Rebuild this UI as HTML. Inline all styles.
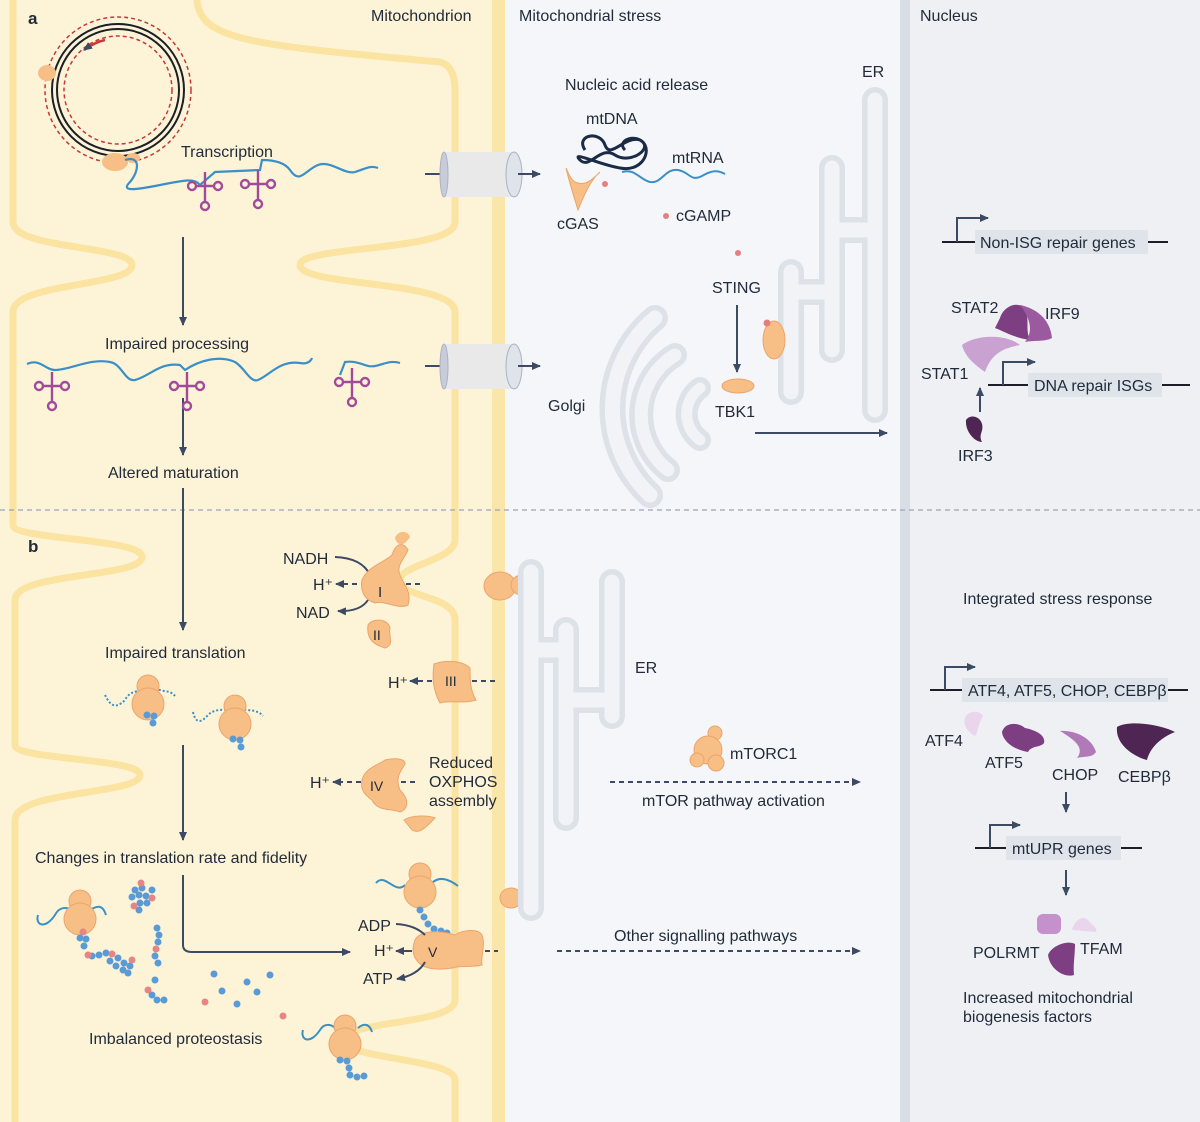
<!DOCTYPE html>
<html><head><meta charset="utf-8"><style>
html,body{margin:0;padding:0;background:#fff}
svg{display:block}
text{font-family:"Liberation Sans",sans-serif;font-size:16px;fill:#222b3a}
</style></head><body>
<svg width="1200" height="1122" viewBox="0 0 1200 1122" xmlns="http://www.w3.org/2000/svg">
<defs>
<marker id="ah" markerWidth="10" markerHeight="10" refX="8" refY="5" orient="auto" markerUnits="userSpaceOnUse"><path d="M0,1 L9,5 L0,9 Z" fill="#3d4a63"/></marker>
<g id="trna" fill="none" stroke="#a24a9a" stroke-width="2.4">
<path d="M0,0 V30 M0,14 H-9 M0,14 H9"/>
<circle cx="-13" cy="14" r="4"/><circle cx="13" cy="14" r="4"/><circle cx="0" cy="34" r="4"/>
</g>
<g id="ribo"><circle cx="0" cy="-14" r="11" fill="#f7be85" stroke="#eba56c"/><circle cx="0" cy="4" r="16" fill="#f7be85" stroke="#eba56c"/></g>
</defs>

<!-- backgrounds -->
<rect x="0" y="0" width="500" height="1122" fill="#fdf4d8"/>
<rect x="492" y="0" width="13" height="1122" fill="#fbe6aa"/>
<rect x="505" y="0" width="395" height="1122" fill="#f4f6f9"/>
<rect x="900" y="0" width="10" height="1122" fill="#d8dde6"/>
<rect x="910" y="0" width="290" height="1122" fill="#eef0f4"/>

<!-- cristae -->
<g fill="none" stroke="#fbe3a2" stroke-width="7">
<path d="M197,0 C200,40 250,45 440,62 Q455,66 455,90 L455,222 C455,252 300,245 300,265 C300,287 455,280 455,312 L455,540 C455,560 400,565 400,580 C400,598 455,595 455,620 L455,1000 C455,1025 345,1020 345,1040 C345,1060 455,1058 455,1080 L455,1122"/>
<path d="M13,0 L13,222 C13,250 132,245 132,265 C132,287 13,282 13,312 L13,525 C13,540 142,538 142,557 C142,578 15,572 15,600 L15,745 C15,760 140,758 140,775 C140,795 15,790 15,820 L15,1122"/>
</g>

<!-- dashed separator -->
<line x1="0" y1="510" x2="1200" y2="510" stroke="#9aa5b5" stroke-width="1.3" stroke-dasharray="5,4"/>

<!-- headings -->
<text x="28" y="24" style="font-weight:bold;font-size:17px">a</text>
<text x="28" y="552" style="font-weight:bold;font-size:17px">b</text>
<text x="371" y="21">Mitochondrion</text>
<text x="519" y="21">Mitochondrial stress</text>
<text x="920" y="21">Nucleus</text>

<!-- mtDNA circle -->
<circle cx="118" cy="90" r="66" fill="none" stroke="#1c1f27" stroke-width="2"/>
<circle cx="118" cy="90" r="61" fill="none" stroke="#1c1f27" stroke-width="2"/>
<circle cx="118" cy="90" r="73" fill="none" stroke="#c8373a" stroke-width="1.5" stroke-dasharray="4,3"/>
<circle cx="118" cy="90" r="54" fill="none" stroke="#c8373a" stroke-width="1.5" stroke-dasharray="4,3"/>
<path d="M105,40 Q95,42 84,50" fill="none" stroke="#c8373a" stroke-width="2.5" marker-end="url(#ah)"/>
<ellipse cx="47" cy="73" rx="9" ry="8" fill="#f7be85"/>
<ellipse cx="115" cy="162" rx="13" ry="9" fill="#f7be85"/>
<ellipse cx="133" cy="158" rx="7" ry="5" fill="#f7be85"/>
<text x="181" y="157">Transcription</text>
<path d="M125,160 C140,155 140,170 130,182 C120,192 135,190 160,185 C185,180 195,178 200,185 L215,172 L260,170 L262,160 C275,160 285,163 290,170 C300,185 305,170 318,165 C330,160 345,175 355,172 C365,169 370,165 378,168" fill="none" stroke="#3b8fc7" stroke-width="2.2"/>
<use href="#trna" x="205" y="172"/>
<use href="#trna" x="258" y="170"/>

<!-- channels -->
<g>
<line x1="425" y1="174" x2="441" y2="174" stroke="#3d4a63" stroke-width="2"/>
<rect x="444" y="152" width="70" height="45" fill="#e9e9e9"/>
<ellipse cx="444" cy="174.5" rx="4" ry="22.5" fill="#c7ccd8" stroke="#aab2c2"/>
<ellipse cx="514" cy="174.5" rx="8" ry="22.5" fill="#dfe3ea" stroke="#aab2c2"/>
<line x1="518" y1="174" x2="540" y2="174" stroke="#3d4a63" stroke-width="2" marker-end="url(#ah)"/>
<line x1="425" y1="366" x2="441" y2="366" stroke="#3d4a63" stroke-width="2"/>
<rect x="444" y="344" width="70" height="45" fill="#e9e9e9"/>
<ellipse cx="444" cy="366.5" rx="4" ry="22.5" fill="#c7ccd8" stroke="#aab2c2"/>
<ellipse cx="514" cy="366.5" rx="8" ry="22.5" fill="#dfe3ea" stroke="#aab2c2"/>
<line x1="518" y1="366" x2="540" y2="366" stroke="#3d4a63" stroke-width="2" marker-end="url(#ah)"/>
</g>

<!-- vertical flow arrows -->
<g stroke="#3d4a63" stroke-width="2" fill="none">
<line x1="183" y1="237" x2="183" y2="325" marker-end="url(#ah)"/>
<line x1="183" y1="398" x2="183" y2="455" marker-end="url(#ah)"/>
<line x1="183" y1="488" x2="183" y2="630" marker-end="url(#ah)"/>
<line x1="183" y1="745" x2="183" y2="840" marker-end="url(#ah)"/>
<path d="M183,875 V945 Q183,952 192,952 H350" marker-end="url(#ah)"/>
</g>
<text x="105" y="349">Impaired processing</text>
<path d="M27,364 C40,358 45,370 55,370 C70,370 90,358 110,362 C122,364 125,382 135,380 C150,376 160,362 180,365 L185,370 C200,360 220,355 235,362 C245,368 250,383 258,380 C270,375 280,360 300,363 C310,365 312,358 312,358 M340,375 L345,362 C360,360 365,368 375,366 C385,364 390,360 400,363" fill="none" stroke="#3b8fc7" stroke-width="2.2"/>
<use href="#trna" x="52" y="372"/>
<use href="#trna" x="187" y="372"/>
<use href="#trna" x="352" y="368"/>
<text x="108" y="478">Altered maturation</text>

<!-- middle a -->
<text x="565" y="90">Nucleic acid release</text>
<text x="586" y="124">mtDNA</text>
<path d="M585,150 C575,135 600,130 605,145 C610,160 625,135 640,140 C655,148 630,165 615,155 C600,145 590,170 580,160 C570,150 600,165 620,168 C640,172 650,155 645,145 C638,132 615,140 625,150" fill="none" stroke="#1b2a45" stroke-width="3"/>
<path d="M566,168 C570,185 575,200 578,210 C582,200 590,180 600,172 C590,182 585,185 578,183 C572,182 569,175 566,168 Z" fill="#f7be85" stroke="#eba56c"/>
<text x="557" y="229">cGAS</text>
<text x="672" y="163">mtRNA</text>
<path d="M622,172 C635,168 640,180 650,182 C662,184 665,168 678,170 C690,172 690,182 702,176 C712,170 718,170 725,174" fill="none" stroke="#3b8fc7" stroke-width="2"/>
<circle cx="605" cy="184" r="3" fill="#e57f7f"/>
<circle cx="666" cy="216" r="3" fill="#e57f7f"/>
<circle cx="738" cy="253" r="3" fill="#e57f7f"/>
<text x="676" y="221">cGAMP</text>
<text x="862" y="77">ER</text>

<!-- ER a -->
<g fill="none" stroke-linecap="round" stroke-linejoin="round">
<path d="M875,100 V410 M832,168 V350 M791,272 V392 M832,230 H875 M791,292 H832" stroke="#dde2e9" stroke-width="26"/>
<path d="M875,100 V410 M832,168 V350 M791,272 V392 M832,230 H875 M791,292 H832" stroke="#f1f3f7" stroke-width="15"/>
</g>
<!-- Golgi -->
<g fill="none" stroke-linecap="round">
<path d="M655,318 A118,118 0 0 0 650,495" stroke="#dde2e9" stroke-width="26"/>
<path d="M655,318 A118,118 0 0 0 650,495" stroke="#f1f3f7" stroke-width="15"/>
<path d="M675,355 A70,70 0 0 0 668,470" stroke="#dde2e9" stroke-width="24"/>
<path d="M675,355 A70,70 0 0 0 668,470" stroke="#f1f3f7" stroke-width="13"/>
<path d="M700,388 A32,32 0 0 0 700,440" stroke="#dde2e9" stroke-width="22"/>
<path d="M700,388 A32,32 0 0 0 700,440" stroke="#f1f3f7" stroke-width="11"/>
</g>
<text x="548" y="411">Golgi</text>
<text x="712" y="293">STING</text>
<line x1="737" y1="305" x2="737" y2="372" stroke="#3d4a63" stroke-width="2" marker-end="url(#ah)"/>
<ellipse cx="774" cy="340" rx="11" ry="19" fill="#f7be85" stroke="#eba56c"/>
<circle cx="767" cy="323" r="3.5" fill="#e57f7f"/>
<ellipse cx="738" cy="386" rx="16" ry="7" fill="#f7be85" stroke="#eba56c"/>
<text x="715" y="417">TBK1</text>
<line x1="755" y1="433" x2="887" y2="433" stroke="#3d4a63" stroke-width="2" marker-end="url(#ah)"/>

<!-- nucleus a -->
<line x1="942" y1="242" x2="1168" y2="242" stroke="#1c1f27" stroke-width="2"/>
<rect x="975" y="230" width="173" height="24" fill="#dfe3ea"/>
<text x="980" y="248">Non-ISG repair genes</text>
<path d="M957,242 V218 H988" fill="none" stroke="#3d4a63" stroke-width="2" marker-end="url(#ah)"/>
<text x="951" y="313">STAT2</text>
<text x="1045" y="319">IRF9</text>
<path d="M1000,318 C1003,308 1015,300 1025,308 C1030,320 1025,330 1030,340 C1015,338 1005,332 995,328 Z" fill="#7d3f82"/>
<path d="M1020,305 C1035,308 1050,318 1052,338 C1045,342 1035,340 1025,342 C1035,330 1028,315 1020,305 Z" fill="#9b5aa0"/>
<path d="M962,345 C975,335 1005,333 1020,345 C1005,348 992,352 985,372 C975,365 965,357 962,345 Z" fill="#c9a2d2"/>
<text x="921" y="379">STAT1</text>
<line x1="988" y1="385" x2="1190" y2="385" stroke="#1c1f27" stroke-width="2"/>
<rect x="1028" y="373" width="134" height="24" fill="#dfe3ea"/>
<text x="1034" y="391">DNA repair ISGs</text>
<path d="M1003,385 V362 H1035" fill="none" stroke="#3d4a63" stroke-width="2" marker-end="url(#ah)"/>
<line x1="980" y1="412" x2="980" y2="388" stroke="#3d4a63" stroke-width="2" marker-end="url(#ah)"/>
<path d="M966,420 C970,414 980,416 982,424 C984,432 978,434 982,442 C975,442 965,432 966,420 Z" fill="#4f2653"/>
<text x="958" y="461">IRF3</text>

<!-- part b mitochondrion -->
<text x="283" y="564">NADH</text>
<text x="313" y="590">H⁺</text>
<text x="296" y="618">NAD</text>
<path d="M335,557 Q362,558 370,575" fill="none" stroke="#3d4a63" stroke-width="2"/>
<path d="M368,600 Q360,612 338,611" fill="none" stroke="#3d4a63" stroke-width="2" marker-end="url(#ah)"/>
<line x1="420" y1="584" x2="336" y2="584" stroke="#3d4a63" stroke-width="2" stroke-dasharray="5,4" marker-end="url(#ah)"/>
<path d="M362,580 C368,566 385,562 392,555 C395,545 402,540 408,550 C404,560 396,565 400,575 C404,585 412,592 408,605 C398,610 385,600 375,603 C365,600 360,592 362,580 Z" fill="#f7be85" stroke="#eba56c"/>
<path d="M395,538 C398,530 408,530 410,537 C405,545 398,548 395,538 Z" fill="#f7be85"/>
<text x="378" y="597" style="font-size:15px">I</text>
<path d="M368,625 C372,618 388,618 390,628 C388,636 395,645 385,648 C375,645 366,640 368,625 Z" fill="#f7be85" stroke="#eba56c"/>
<text x="373" y="640" style="font-size:14px">II</text>
<ellipse cx="500" cy="586" rx="16" ry="14" fill="#f7be85" stroke="#eba56c"/>
<ellipse cx="522" cy="585" rx="11" ry="10" fill="#f7be85" stroke="#eba56c"/>

<text x="388" y="688">H⁺</text>
<line x1="495" y1="681" x2="410" y2="681" stroke="#3d4a63" stroke-width="2" stroke-dasharray="5,4" marker-end="url(#ah)"/>
<path d="M434,664 C445,660 462,660 470,668 C470,680 470,690 476,700 C465,704 450,700 440,703 C433,690 432,678 434,664 Z" fill="#f7be85" stroke="#eba56c"/>
<text x="445" y="686" style="font-size:14px">III</text>

<text x="310" y="788">H⁺</text>
<line x1="415" y1="782" x2="333" y2="782" stroke="#3d4a63" stroke-width="2" stroke-dasharray="5,4" marker-end="url(#ah)"/>
<path d="M362,780 C365,768 378,765 385,760 C395,758 405,758 405,764 C400,772 395,778 400,790 C408,798 410,808 400,812 C390,808 378,812 372,800 C365,795 360,790 362,780 Z" fill="#f7be85" stroke="#eba56c"/>
<path d="M404,820 C412,815 428,815 435,818 C428,825 420,835 412,830 Z" fill="#f7be85" stroke="#eba56c"/>
<text x="370" y="791" style="font-size:14px">IV</text>
<text x="429" y="768">Reduced</text>
<text x="429" y="787">OXPHOS</text>
<text x="429" y="806">assembly</text>

<!-- complex V -->
<path d="M376,883 C385,872 395,895 405,885 M432,883 C440,875 450,880 458,886" fill="none" stroke="#3b8fc7" stroke-width="2"/>
<use href="#ribo" x="420" y="888"/>
<g fill="#5b9bd5"><circle cx="420" cy="910" r="3.5"/><circle cx="424" cy="917" r="3.5"/><circle cx="428" cy="924" r="3.5"/><circle cx="434" cy="929" r="3.5"/><circle cx="441" cy="931" r="3.5"/><circle cx="447" cy="933" r="3.5"/></g>
<path d="M415,940 C420,930 440,930 455,935 C462,930 478,928 482,935 C486,945 480,958 482,965 C470,968 460,965 452,968 C440,970 425,970 418,962 C412,955 412,948 415,940 Z" fill="#f7be85" stroke="#eba56c"/>
<text x="428" y="957" style="font-size:14px">V</text>
<text x="358" y="931">ADP</text>
<text x="374" y="956">H⁺</text>
<text x="363" y="984">ATP</text>
<path d="M396,924 Q415,925 425,935" fill="none" stroke="#3d4a63" stroke-width="2"/>
<path d="M425,962 Q418,975 397,979" fill="none" stroke="#3d4a63" stroke-width="2" marker-end="url(#ah)"/>
<line x1="412" y1="951" x2="396" y2="951" stroke="#3d4a63" stroke-width="2" marker-end="url(#ah)"/>
<line x1="485" y1="951" x2="498" y2="951" stroke="#3d4a63" stroke-width="2" stroke-dasharray="5,4"/>
<ellipse cx="511" cy="898" rx="11" ry="10" fill="#f7be85" stroke="#eba56c"/>

<text x="105" y="658">Impaired translation</text>
<path d="M105,695 C110,705 115,710 125,700 C130,690 140,690 160,690 C165,692 170,690 175,696" fill="none" stroke="#3b8fc7" stroke-width="2" stroke-dasharray="2,2"/>
<use href="#ribo" x="148" y="700"/>
<g fill="#5b9bd5"><circle cx="147" cy="715" r="3.5"/><circle cx="154" cy="716" r="3.5"/><circle cx="153" cy="723" r="3.5"/></g>
<path d="M193,712 C196,725 202,722 208,715 C215,708 225,710 240,710 C250,710 258,710 263,716" fill="none" stroke="#3b8fc7" stroke-width="2" stroke-dasharray="2,2"/>
<use href="#ribo" x="235" y="720"/>
<g fill="#5b9bd5"><circle cx="233" cy="739" r="3.5"/><circle cx="240" cy="740" r="3.5"/><circle cx="241" cy="747" r="3.5"/></g>

<text x="35" y="863">Changes in translation rate and fidelity</text>
<path d="M38,915 C35,925 45,930 55,915 C60,905 68,908 75,910 M90,910 C98,905 103,905 106,915" fill="none" stroke="#3b8fc7" stroke-width="2"/>
<use href="#ribo" x="80" y="915"/>
<g fill="#5b9bd5">
<circle cx="80" cy="938" r="3.5"/><circle cx="86" cy="939" r="3.5"/><circle cx="84" cy="946" r="3.5"/><circle cx="92" cy="956" r="3.5"/><circle cx="99" cy="955" r="3.5"/><circle cx="106" cy="953" r="3.5"/><circle cx="118" cy="958" r="3.5"/><circle cx="124" cy="963" r="3.5"/><circle cx="116" cy="966" r="3.5"/><circle cx="123" cy="970" r="3.5"/><circle cx="130" cy="966" r="3.5"/><circle cx="110" cy="961" r="3.5"/><circle cx="128" cy="973" r="3.5"/>
<circle cx="135" cy="890" r="3.5"/><circle cx="142" cy="888" r="3.5"/><circle cx="139" cy="895" r="3.5"/><circle cx="146" cy="896" r="3.5"/><circle cx="132" cy="897" r="3.5"/><circle cx="140" cy="903" r="3.5"/><circle cx="147" cy="903" r="3.5"/><circle cx="139" cy="910" r="3.5"/><circle cx="152" cy="890" r="3.5"/>
<circle cx="157" cy="928" r="3.5"/><circle cx="159" cy="935" r="3.5"/><circle cx="158" cy="942" r="3.5"/><circle cx="155" cy="956" r="3.5"/><circle cx="158" cy="963" r="3.5"/>
<circle cx="155" cy="980" r="3.5"/><circle cx="152" cy="995" r="3.5"/><circle cx="157" cy="1000" r="3.5"/><circle cx="164" cy="1000" r="3.5"/>
<circle cx="214" cy="974" r="3.5"/><circle cx="247" cy="982" r="3.5"/><circle cx="222" cy="991" r="3.5"/><circle cx="257" cy="992" r="3.5"/><circle cx="270" cy="975" r="3.5"/><circle cx="237" cy="1004" r="3.5"/>
</g>
<g fill="#e58585"><circle cx="83" cy="932" r="3.5"/><circle cx="88" cy="955" r="3.5"/><circle cx="112" cy="954" r="3.5"/><circle cx="132" cy="960" r="3.5"/><circle cx="141" cy="883" r="3.5"/><circle cx="152" cy="898" r="3.5"/><circle cx="134" cy="906" r="3.5"/><circle cx="156" cy="949" r="3.5"/><circle cx="148" cy="990" r="3.5"/><circle cx="205" cy="1002" r="3.5"/><circle cx="283" cy="1016" r="3.5"/></g>
<text x="89" y="1044">Imbalanced proteostasis</text>
<path d="M303,1030 C300,1040 310,1045 320,1030 C325,1022 332,1025 335,1028 M358,1028 C365,1022 370,1025 372,1032" fill="none" stroke="#3b8fc7" stroke-width="2"/>
<use href="#ribo" x="345" y="1040"/>
<g fill="#5b9bd5"><circle cx="340" cy="1060" r="3.5"/><circle cx="347" cy="1061" r="3.5"/><circle cx="349" cy="1068" r="3.5"/><circle cx="350" cy="1075" r="3.5"/><circle cx="357" cy="1077" r="3.5"/><circle cx="364" cy="1076" r="3.5"/></g>

<!-- ER b -->
<g fill="none" stroke-linecap="round" stroke-linejoin="round">
<path d="M531,572 V908 M566,630 V818 M612,582 V716 M531,650 H566 M566,700 H612" stroke="#dde2e9" stroke-width="26"/>
<path d="M531,572 V908 M566,630 V818 M612,582 V716 M531,650 H566 M566,700 H612" stroke="#f1f3f7" stroke-width="15"/>
</g>
<text x="635" y="673">ER</text>

<!-- mTOR -->
<g fill="#f7be85" stroke="#eba56c"><circle cx="715" cy="733" r="7"/><circle cx="708" cy="750" r="14"/><circle cx="697" cy="760" r="7"/><circle cx="716" cy="763" r="8"/></g>
<text x="730" y="759">mTORC1</text>
<line x1="610" y1="782" x2="860" y2="782" stroke="#3d4a63" stroke-width="2" stroke-dasharray="5,4" marker-end="url(#ah)"/>
<text x="642" y="806">mTOR pathway activation</text>
<text x="614" y="941">Other signalling pathways</text>
<line x1="557" y1="951" x2="860" y2="951" stroke="#3d4a63" stroke-width="2" stroke-dasharray="5,4" marker-end="url(#ah)"/>

<!-- nucleus b -->
<text x="963" y="604">Integrated stress response</text>
<line x1="930" y1="690" x2="1188" y2="690" stroke="#1c1f27" stroke-width="2"/>
<rect x="962" y="678" width="206" height="24" fill="#dfe3ea"/>
<text x="968" y="696">ATF4, ATF5, CHOP, CEBPβ</text>
<path d="M945,690 V667 H975" fill="none" stroke="#3d4a63" stroke-width="2" marker-end="url(#ah)"/>
<path d="M965,718 C968,710 980,710 983,716 C978,724 978,732 975,736 C968,732 963,726 965,718 Z" fill="#e9d5ec"/>
<text x="925" y="746">ATF4</text>
<path d="M1002,732 C1005,722 1018,722 1025,728 C1035,730 1046,735 1044,743 C1040,748 1032,745 1028,752 C1015,750 1003,742 1002,732 Z" fill="#7d3f82"/>
<text x="985" y="768">ATF5</text>
<path d="M1060,731 C1075,730 1092,738 1096,752 C1092,758 1085,756 1077,758 C1085,748 1075,740 1060,731 Z" fill="#b07ab8"/>
<text x="1052" y="780">CHOP</text>
<path d="M1117,727 C1128,720 1160,724 1175,732 C1160,738 1150,748 1147,760 C1135,757 1115,745 1117,727 Z" fill="#4f2653"/>
<text x="1118" y="782">CEBPβ</text>
<line x1="1066" y1="792" x2="1066" y2="812" stroke="#3d4a63" stroke-width="2" marker-end="url(#ah)"/>
<line x1="975" y1="848" x2="1142" y2="848" stroke="#1c1f27" stroke-width="2"/>
<rect x="1006" y="836" width="115" height="24" fill="#dfe3ea"/>
<text x="1012" y="854">mtUPR genes</text>
<path d="M990,848 V825 H1020" fill="none" stroke="#3d4a63" stroke-width="2" marker-end="url(#ah)"/>
<line x1="1066" y1="870" x2="1066" y2="895" stroke="#3d4a63" stroke-width="2" marker-end="url(#ah)"/>
<rect x="1037" y="914" width="24" height="20" rx="6" fill="#c591cc"/>
<path d="M1072,930 C1075,920 1082,915 1088,920 C1092,925 1098,928 1096,932 Z" fill="#e9d5ec"/>
<path d="M1048,955 C1052,945 1068,940 1075,944 C1075,955 1073,965 1074,975 C1065,978 1050,970 1048,955 Z" fill="#7d3f82"/>
<text x="973" y="958">POLRMT</text>
<text x="1080" y="954">TFAM</text>
<text x="963" y="1003">Increased mitochondrial</text>
<text x="963" y="1022">biogenesis factors</text>
</svg>
</body></html>
